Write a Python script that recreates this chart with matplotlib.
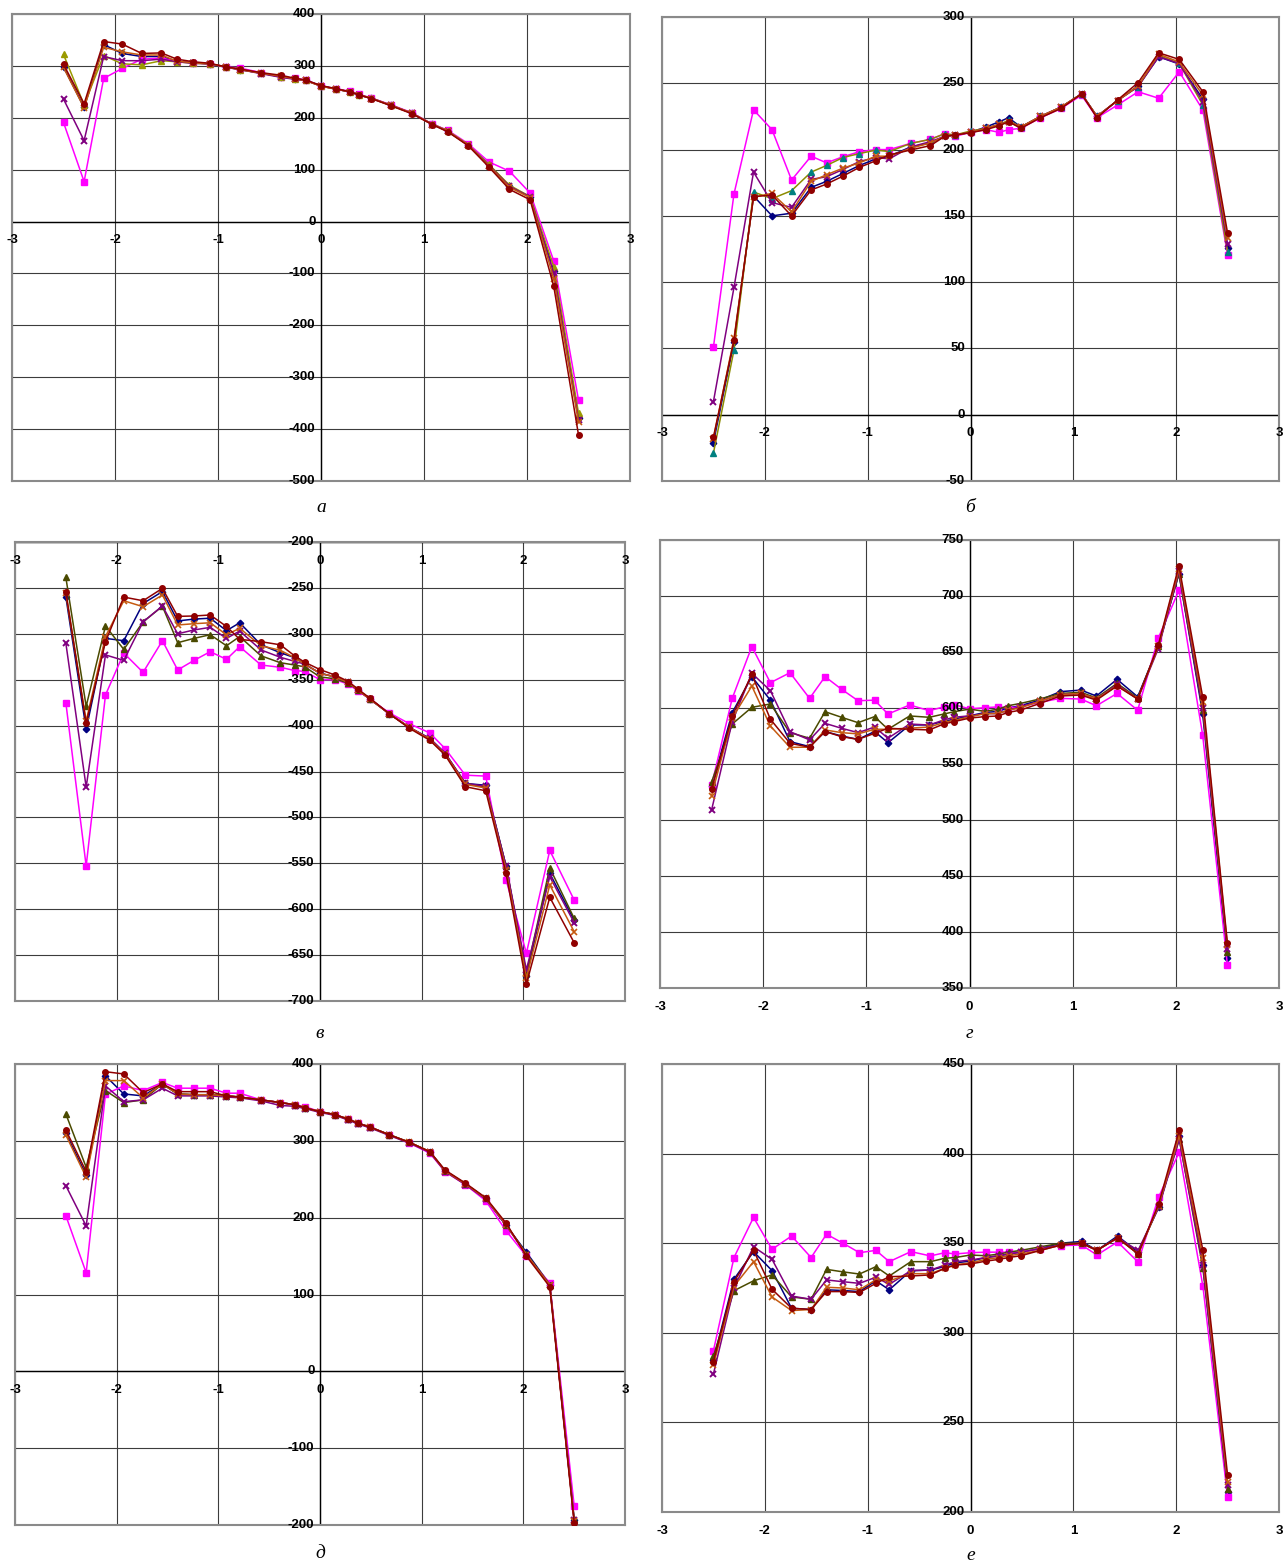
import numpy as np
import matplotlib
matplotlib.use("Agg")
import matplotlib.pyplot as plt

# -------------------------------------------------
# Data
# -------------------------------------------------
x_pts = [-2.5, -2.3, -2.11, -1.93, -1.74, -1.55, -1.40, -1.24, -1.08, -0.92,
         -0.79, -0.58, -0.39, -0.25, -0.15, 0.0, 0.15, 0.28, 0.37, 0.49,
         0.68, 0.88, 1.08, 1.23, 1.43, 1.63, 1.83, 2.03, 2.26, 2.5]

# panel а
a_blue = [298, 220, 341, 324, 318, 318, 309, 306, 304, 298, 293, 286, 279, 275, 272,
          262, 255, 250, 244, 238, 224, 209, 188, 175, 148, 110, 68, 48, -95, -379]
a_magenta = [191, 77, 276, 295, 313, 315, 309, 306, 304, 298, 296, 287, 279, 276, 273,
             261, 256, 251, 245, 238, 225, 210, 188, 176, 150, 115, 97, 55, -76, -344]
a_olive = [322, 225, 320, 304, 302, 310, 308, 305, 304, 298, 293, 286, 279, 275, 272,
           261, 255, 250, 244, 238, 224, 209, 188, 175, 148, 110, 70, 48, -87, -369]
a_purple = [236, 156, 318, 310, 310, 313, 308, 305, 304, 297, 293, 285, 278, 274, 272,
            261, 255, 250, 244, 237, 224, 209, 187, 174, 147, 108, 68, 47, -100, -382]
a_orange = [297, 219, 336, 327, 321, 321, 309, 306, 304, 298, 293, 286, 280, 275, 272,
            261, 255, 250, 244, 237, 224, 209, 187, 174, 147, 107, 66, 46, -110, -386]
a_darkred = [303, 227, 347, 342, 324, 325, 313, 308, 305, 298, 294, 287, 282, 276, 273,
             262, 256, 250, 244, 237, 223, 208, 187, 173, 146, 105, 62, 42, -125, -411]

# panel б
b_blue = [-21, 55, 165, 150, 152, 171.5, 176, 182, 188, 193, 195, 202, 205, 210, 211,
          213, 217, 221, 224, 217, 225, 232, 242, 225, 237, 248, 270, 264.5, 238, 126]
b_magenta = [51, 166.5, 230, 215, 177, 195, 190, 194.6, 198.4, 200, 200, 204.7, 207.7, 212, 210,
             213, 215, 213, 215, 216, 224, 231, 241, 224, 233.6, 243.6, 238.7, 258.7, 229.8, 120.5]
b_olive = [-29, 48.8, 168, 163, 169, 183, 188, 194, 197, 199.6, 198.5, 204.7, 207.7, 212, 211,
           214, 216, 219, 222, 217, 225, 232, 242, 225, 237, 247.5, 271, 265, 233.6, 123]
b_purple = [9.8, 96, 183, 160, 156.4, 177.5, 179.5, 185, 191, 194, 193, 202, 206, 210, 211,
            213, 216, 219, 221, 217, 225, 232, 242, 225, 237, 247.5, 270, 265, 236, 128.8]
b_orange = [-18, 57.5, 164, 167, 153, 176, 181, 186, 190, 195, 195, 201, 205, 210, 211,
            213, 216, 219, 221, 217, 225, 232, 242, 225, 237, 248, 272, 266, 241, 133]
b_darkred = [-17, 56, 164.5, 165.7, 150, 169.5, 174, 180, 186.6, 191.6, 196, 199.7, 203, 210, 211,
             212.7, 215, 218, 221, 216, 224, 231, 242, 224, 237.4, 250.5, 273, 268, 243.6, 137]

# panel в
v_blue = [-259.6, -404, -305, -307.5, -267, -254, -286, -284, -283, -296.6, -288, -312, -320.6, -326, -333,
          -343, -347, -353, -361, -371, -387, -402, -414, -430, -463, -465, -553, -673, -561, -612]
v_magenta = [-375, -553, -366.7, -321, -342, -307.5, -339.4, -329, -319.5, -327.8, -314, -334, -336.5, -340, -341,
             -350, -350, -355, -362, -371, -386, -398, -408, -425, -454, -455, -568, -648, -536, -590]
v_olive = [-238.5, -379, -291.5, -317, -287, -270, -309.7, -305, -301, -313, -303, -324, -331.5, -334, -336,
           -347, -349, -354, -361, -371, -387, -402, -415, -431, -463, -467, -553, -670, -555, -610]
v_purple = [-310, -467, -323, -329, -287, -269.7, -300, -295.8, -293, -305, -297, -317.6, -325.6, -330, -333,
            -343, -347, -353, -361, -371, -387, -402, -414, -430, -463, -466, -553, -666, -564.6, -614.6]
v_orange = [-256, -395, -303, -264, -270.5, -257.7, -290.4, -289, -288, -301, -294, -313, -318, -326, -333,
            -343, -347, -353, -361, -371, -387, -402, -415, -431, -464, -468, -557, -675, -573.6, -624.5]
v_darkred = [-254, -397.5, -308.6, -260, -264, -250.5, -281, -280.6, -279.5, -292, -306, -308.6, -312, -324, -331,
             -339, -345, -352, -360, -370, -387, -403, -416, -432, -466.6, -471, -561, -681.5, -587, -636.5]

# panel г
g_blue = [530, 595.8, 628, 607, 570, 565.5, 579, 575, 572, 579, 569, 584.8, 585, 588, 590,
          593, 596, 597, 600, 602, 607, 614.6, 616, 610.7, 625.6, 610, 655, 720, 595, 376.8]
g_magenta = [531, 608.6, 654.8, 622.6, 631.5, 608.6, 628, 616.7, 606.5, 607, 594.6, 602.7, 597.6, 601, 603,
             599.3, 600.3, 601, 600, 601, 605, 608.6, 608, 602, 613, 598, 662.5, 705, 576, 370.5]
g_olive = [534, 585.7, 600.6, 603.6, 578, 573, 596.7, 591.7, 586.9, 592.3, 581, 592.9, 591.7, 594.6, 596.7,
           599, 597, 599, 602, 604, 608, 613, 614, 609, 622, 609, 655, 720, 598, 382]
g_purple = [508.9, 587.8, 631, 615.5, 578.9, 571.5, 586.3, 581.9, 578, 583, 573, 585.7, 584.8, 589.3, 591.7,
            593, 595, 595, 598, 601, 606, 612, 613, 608, 621, 608, 653, 722, 600, 385]
g_orange = [521.7, 591, 619.6, 583.9, 564.9, 565, 580.4, 578, 576.9, 581, 581, 582, 583, 587, 589,
            592, 595, 595, 598, 600, 606, 612, 613, 608, 620, 608, 655, 724, 605, 388]
g_darkred = [527.4, 592.9, 630, 590, 568.5, 565, 579, 574.4, 572, 577.4, 581.9, 581, 580.4, 585.7, 587.8,
             591, 592.3, 592.9, 596, 598, 604, 610.7, 611.6, 607, 619.6, 608, 656, 727, 610, 390]

# panel д
d_blue = [310, 255.7, 384.5, 361, 358.5, 374, 361, 360, 360, 358.5, 357, 353.3, 349.8, 347, 343,
          338, 334, 328, 323, 318, 308, 298, 285.6, 261, 244, 225, 190, 155, 113, -193]
d_magenta = [202.6, 128.4, 360.7, 371.5, 365.4, 376, 368.5, 368.5, 368.5, 362, 362, 353.3, 349.8, 347, 344.6,
             338, 334, 328, 323, 318, 308, 297, 284, 260, 243, 222, 183, 150, 115, -175]
d_olive = [335, 265.6, 365.4, 349.8, 353.3, 374, 361, 360, 360, 358.5, 357, 353.3, 349.8, 347, 343,
           338, 334, 328, 323, 318, 308, 298, 286, 261, 244, 225, 191, 153, 113, -192]
d_purple = [241.7, 189.2, 371.5, 351, 353.3, 368.5, 358.5, 358.5, 358.5, 357, 356, 352, 346, 345, 342,
            337, 333, 327, 322, 317, 307, 297, 285, 260, 243, 224, 190, 152, 112, -194]
d_orange = [307.6, 252.6, 378.4, 378.4, 356, 374, 361, 360, 360, 358.5, 357, 353.3, 349.8, 347, 343,
            338, 334, 328, 323, 318, 308, 298, 286, 261, 244, 225, 191, 152, 112, -195]
d_darkred = [314, 260, 390, 387, 362.8, 374, 364, 364, 364, 358.5, 357, 353.3, 349.8, 347, 343,
             338, 334, 328, 323, 318, 308, 298, 286, 262, 245, 226, 193, 150, 110, -197]

# panel е
e_blue = [285, 329.9, 345.3, 334.7, 313.7, 313, 324, 323.6, 323, 329, 324, 334.7, 335, 337, 339,
          340, 342, 343, 344, 345, 347, 350, 351, 346, 354, 345, 370, 410, 338, 211]
e_magenta = [290, 342, 364.4, 346.6, 354, 342, 355, 350, 344.7, 346, 339.7, 345.3, 342.9, 344.7, 344,
             344.7, 345, 345, 345, 345, 347, 348.6, 349, 343.4, 350.7, 339.5, 375.8, 400.9, 326, 208.4]
e_olive = [287, 323.5, 329, 332.3, 320, 318.7, 335.4, 334, 332.8, 336.9, 331.7, 339.7, 339.7, 341.6, 342,
           343.4, 343, 344, 345, 346, 348, 350, 350, 346, 353, 344, 371, 408, 336, 213]
e_purple = [277, 325, 348, 341, 320.5, 318.7, 329.5, 328.5, 327.6, 331, 327, 334.7, 335, 337.8, 339.7,
            340.6, 342, 343, 344, 345, 347, 349, 350, 346, 353, 346, 370, 408, 338, 215]
e_orange = [282, 326, 339.7, 320, 312.4, 313, 325.4, 325, 324, 329.6, 329, 333, 333, 336, 338,
            339, 341, 342, 343, 344, 346, 349, 350, 346, 353, 344, 371, 410, 342, 217]
e_darkred = [283.9, 328.5, 346, 324.3, 313.7, 313, 323, 323, 322.5, 327.6, 331.3, 331.7, 332.3, 336, 337.8,
             338.4, 340, 341, 342, 343, 346, 349, 350, 346, 353, 344, 372, 413, 346, 220.6]

captions = ["а", "б", "в", "г", "д", "е"]

# -------------------------------------------------
# Styles
# -------------------------------------------------
GRID = "#3c3c3c"
BORDER = "#8a8a8a"
LABEL_FONT = ["Liberation Sans", "DejaVu Sans"]

def series_styles(olive_col, olive_face):
    return [
        dict(color="#000080", marker="D", ms=3.3, mfc="#000080"),
        dict(color="#FF00FF", marker="s", ms=4.2, mfc="#FF00FF"),
        dict(color=olive_col, marker="^", ms=4.5, mfc=olive_face, mec=olive_face),
        dict(color="#800080", marker="x", ms=4.2, mew=1.4),
        dict(color="#C55A11", marker="x", ms=4.0, mew=1.2),
        dict(color="#900000", marker="o", ms=4.0, mfc="#900000"),
    ]

panels = [
    # caption, pixel box (left, top, right, bottom), caption y, ylim, ystep, x-axis crossing, series, olive colours
    (captions[0], (12, 14, 630, 481), 507, (-500, 400), 100, 0,
     [a_blue, a_magenta, a_olive, a_purple, a_orange, a_darkred], ("#9a9a00", "#9a9a00")),
    (captions[1], (662, 17, 1279, 481), 507, (-50, 300), 50, 0,
     [b_blue, b_magenta, b_olive, b_purple, b_orange, b_darkred], ("#8c8c00", "#008080")),
    (captions[2], (15, 542, 625, 1001), 1033, (-700, -200), 50, -200,
     [v_blue, v_magenta, v_olive, v_purple, v_orange, v_darkred], ("#4a4a00", "#4a4a00")),
    (captions[3], (660, 540, 1279, 988), 1033, (350, 750), 50, 350,
     [g_blue, g_magenta, g_olive, g_purple, g_orange, g_darkred], ("#4a4a00", "#4a4a00")),
    (captions[4], (15, 1064, 625, 1525), 1553, (-200, 400), 100, 0,
     [d_blue, d_magenta, d_olive, d_purple, d_orange, d_darkred], ("#4a4a00", "#4a4a00")),
    (captions[5], (662, 1064, 1279, 1512), 1555, (200, 450), 50, 200,
     [e_blue, e_magenta, e_olive, e_purple, e_orange, e_darkred], ("#4a4a00", "#4a4a00")),
]

W, H = 1285, 1567
fig = plt.figure(figsize=(W / 100, H / 100), dpi=100)

for cap, (l, t, r, b), cap_y, ylim, ystep, xcross, series, olive in panels:
    ax = fig.add_axes([l / W, 1 - b / H, (r - l) / W, (b - t) / H])
    ax.set_xlim(-3, 3)
    ax.set_ylim(*ylim)
    ax.set_xticks([])
    ax.set_yticks([])
    for s in ax.spines.values():
        s.set_color(BORDER)
        s.set_linewidth(1.5)

    yticks = np.arange(ylim[0], ylim[1] + 1, ystep)
    for xv in range(-3, 4):
        ax.axvline(xv, color=GRID, lw=0.8, zorder=1)
    for yv in yticks:
        ax.axhline(yv, color=GRID, lw=0.8, zorder=1)
    ax.axvline(0, color="black", lw=1.0, zorder=1.5)
    ax.axhline(xcross, color="black", lw=1.0, zorder=1.5)

    # tick labels, Excel style: on the crossing axes
    for yv in yticks:
        ax.annotate(f"{int(yv)}", (0, yv), xytext=(-4, 0), textcoords="offset points",
                    ha="right", va="center", fontsize=9.5, fontweight="bold",
                    family=LABEL_FONT, annotation_clip=False, zorder=5)
    for xv in range(-3, 4):
        ax.annotate(f"{xv}", (xv, xcross), xytext=(0, -13.5), textcoords="offset points",
                    ha="center", va="center", fontsize=9.5, fontweight="bold",
                    family=LABEL_FONT, annotation_clip=False, zorder=5)

    for vals, st in zip(series, series_styles(*olive)):
        ax.plot(x_pts, vals, lw=1.1, zorder=3, **st)

    fig.text((l + r) / 2 / W, 1 - cap_y / H, cap, ha="center", va="center",
             fontsize=14, style="italic", family=["Liberation Serif", "DejaVu Serif"])

fig.savefig("out.png", dpi=100)
